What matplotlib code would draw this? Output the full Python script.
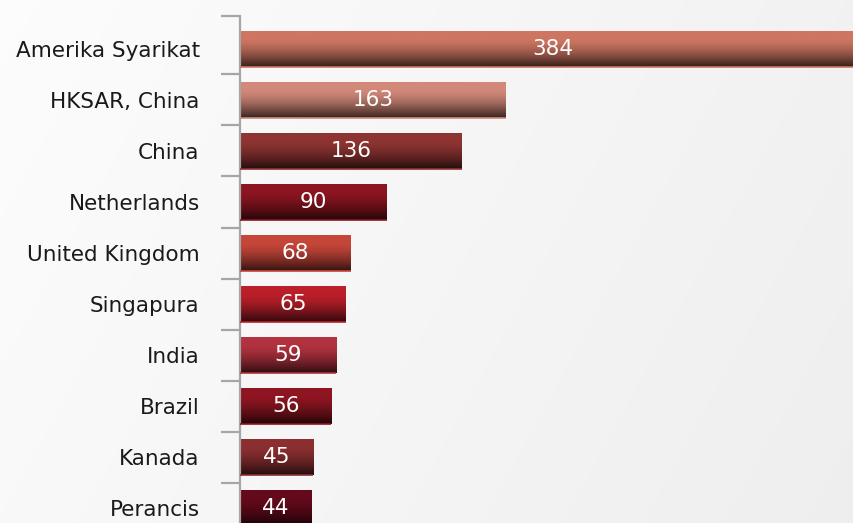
import numpy as np
import matplotlib.pyplot as plt
import matplotlib.colors as mcolors

countries = ['Amerika Syarikat', 'HKSAR, China', 'China', 'Netherlands',
             'United Kingdom', 'Singapura', 'India', 'Brazil', 'Kanada', 'Perancis']
values = [384, 163, 136, 90, 68, 65, 59, 56, 45, 44]
bar_colors = ['#CE7662', '#D2897A', '#8E3432', '#8C1521', '#C6463A',
              '#BC1F2A', '#B2323F', '#8E1521', '#8C2F31', '#640A1C']

plt.rcParams['font.family'] = ['DejaVu Sans']

fig = plt.figure(figsize=(8.54, 5.23), dpi=100)

# background: soft diagonal grey gradient
bg = fig.add_axes([0, 0, 1, 1], zorder=-1)
gx, gy = np.meshgrid(np.linspace(0, 1, 200), np.linspace(0, 1, 200))
shade = 0.99 - 0.055 * (0.75 * gx + 0.25 * gy)
bg.imshow(np.dstack([shade, shade, shade]), extent=[0, 1, 0, 1],
          aspect='auto', origin='upper')
bg.axis('off')

ax = fig.add_axes([240 / 854, 0, 1 - 240 / 854, 1 - 16 / 523])
ax.patch.set_alpha(0)

ypos = np.arange(len(countries))
bars = ax.barh(ypos, values, height=0.70, color='none')

# vertical gradient inside each bar (base colour fading to near black)
t = np.linspace(0, 1, 100)
fade = 1 - 0.74 * np.clip((t - 0.2) / 0.8, 0, 1) ** 1.5
for b, c, v in zip(bars, bar_colors, values):
    rgb = np.array(mcolors.to_rgb(c))
    grad = (fade[:, None] * rgb[None, :])[:, None, :]
    x0, y0 = b.get_x(), b.get_y()
    w, h = b.get_width(), b.get_height()
    im = ax.imshow(grad, extent=[x0, x0 + w, y0 + h, y0], aspect='auto',
                   origin='upper', zorder=2)
    im.set_clip_path(b)
    ax.plot([x0, x0 + w], [y0 + h, y0 + h], color=c, lw=1.2, zorder=3,
            solid_capstyle='butt')
    ax.text(v / 2, y0 + h / 2, str(v), color='white', fontsize=15.5,
            ha='center', va='center', zorder=4)

ax.set_xlim(0, 376.7)
ax.set_ylim(9.294, -0.647)

ax.set_yticks(ypos)
ax.set_yticklabels(countries, fontsize=15.5, color='#1a1a1a')
ax.tick_params(axis='y', which='major', length=0, pad=29)
ax.set_yticks([-0.647] + list(np.arange(0.5, 9.0, 1.0)), minor=True)
ax.tick_params(axis='y', which='minor', length=14, width=1.6, color='#A6A6A6')
ax.set_xticks([])

for s in ['top', 'right', 'bottom']:
    ax.spines[s].set_visible(False)
ax.spines['left'].set_color('#A6A6A6')
ax.spines['left'].set_linewidth(1.6)

fig.savefig('out.png', dpi=100)
